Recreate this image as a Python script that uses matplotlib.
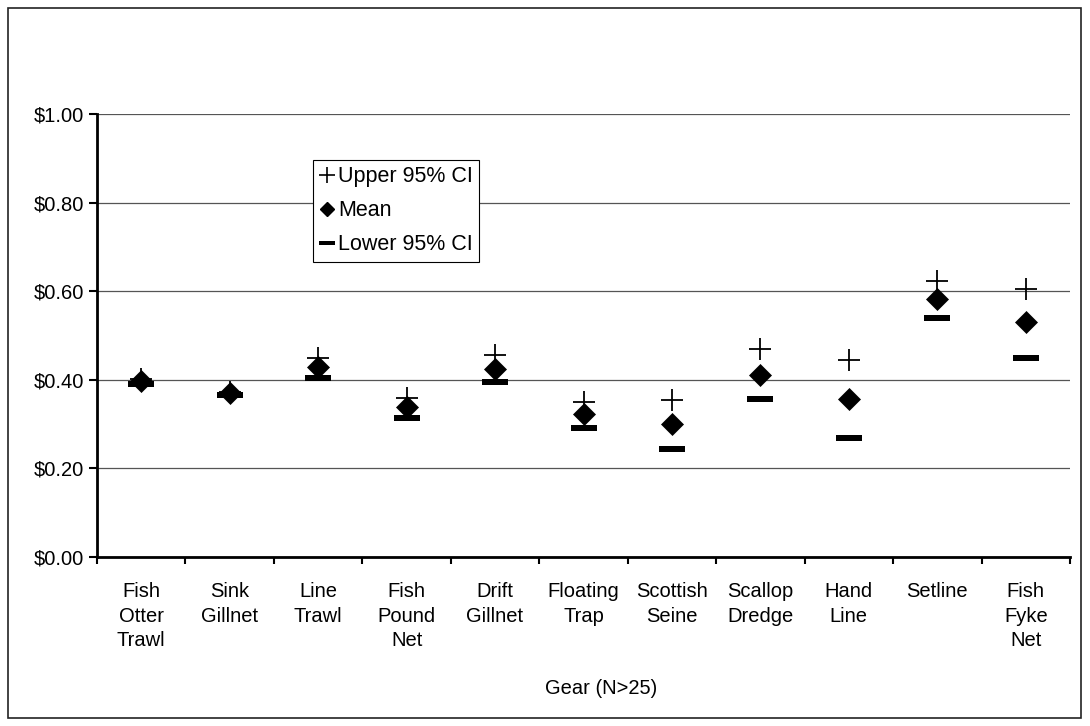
import matplotlib
matplotlib.use("Agg")
import matplotlib.pyplot as plt
import numpy as np
from matplotlib.path import Path
from matplotlib.lines import Line2D
from matplotlib.patches import Rectangle
from matplotlib.ticker import FuncFormatter, FixedLocator

plt.rcParams['font.family'] = ['Liberation Sans', 'DejaVu Sans']

# Gear types (N>25)
gears = ["Fish\nOtter\nTrawl", "Sink\nGillnet", "Line\nTrawl", "Fish\nPound\nNet",
         "Drift\nGillnet", "Floating\nTrap", "Scottish\nSeine", "Scallop\nDredge",
         "Hand\nLine", "Setline", "Fish\nFyke\nNet"]
upper_ci = [0.402, 0.373, 0.450, 0.360, 0.455, 0.350, 0.355, 0.470, 0.444, 0.624, 0.604]
mean_val = [0.397, 0.370, 0.430, 0.338, 0.425, 0.322, 0.301, 0.411, 0.357, 0.583, 0.530]
lower_ci = [0.391, 0.365, 0.403, 0.314, 0.395, 0.291, 0.244, 0.356, 0.269, 0.540, 0.450]
y_ticks = [0.0, 0.2, 0.4, 0.6, 0.8, 1.0]

FS = 14.5
W, H = 1090, 726
fig = plt.figure(figsize=(W / 100, H / 100), dpi=100)

# outer chart border
bx0, by0, bx1, by1 = 8, 8, 1081, 718
fig.patches.append(Rectangle((bx0 / W, 1 - by1 / H), (bx1 - bx0) / W, (by1 - by0) / H,
                             transform=fig.transFigure, fill=False,
                             edgecolor='#222222', linewidth=1.2))

ax_left, ax_right = 97, 1070
ax_top, ax_bottom = 114, 557
ax = fig.add_axes([ax_left / W, (H - ax_bottom) / H,
                   (ax_right - ax_left) / W, (ax_bottom - ax_top) / H])

x = np.arange(len(gears))

# flat bar marker for the lower bound
bar_marker = Path([(-1, -0.24), (1, -0.24), (1, 0.24), (-1, 0.24), (-1, -0.24)],
                  [Path.MOVETO, Path.LINETO, Path.LINETO, Path.LINETO, Path.CLOSEPOLY])

ax.plot(x, upper_ci, linestyle='none', marker='+', markersize=16.5,
        markeredgewidth=1.3, color='black', zorder=3)
ax.plot(x, mean_val, linestyle='none', marker='D', markersize=11.5,
        markeredgewidth=0.5, color='black', zorder=4)
ax.plot(x, lower_ci, linestyle='none', marker=bar_marker, markersize=18.7,
        markeredgewidth=0, color='black', zorder=5)

ax.set_xlim(-0.5, len(gears) - 0.5)
ax.set_ylim(0, 1.0)

ax.set_yticks(y_ticks)
ax.yaxis.set_major_formatter(FuncFormatter(lambda v, p: f"${v:.2f}"))
ax.grid(axis='y', color='#555555', linewidth=0.9)
ax.set_axisbelow(True)

ax.set_xticks(x)
ax.set_xticklabels(gears, linespacing=1.38)
ax.xaxis.set_minor_locator(FixedLocator(np.arange(-0.5, len(gears), 1.0)))
ax.tick_params(axis='x', which='major', length=0, pad=18, labelsize=FS)
ax.tick_params(axis='x', which='minor', length=5, width=1.5, direction='out')
ax.tick_params(axis='y', which='major', length=6, width=1.5, direction='out',
               pad=3, labelsize=FS)

for s in ('top', 'right'):
    ax.spines[s].set_visible(False)
for s in ('left', 'bottom'):
    ax.spines[s].set_linewidth(2.0)

fig.text(601 / W, 1 - 688 / H, "Gear (N>25)", fontsize=FS, ha='center', va='center')

handles = [
    Line2D([], [], linestyle='none', marker='+', markersize=11, markeredgewidth=1.2, color='black'),
    Line2D([], [], linestyle='none', marker='D', markersize=7, color='black'),
    Line2D([], [], linestyle='none', marker=bar_marker, markersize=11, markeredgewidth=0, color='black'),
]
leg = fig.legend(handles, ["Upper 95% CI", "Mean", "Lower 95% CI"],
                 loc='upper left', bbox_to_anchor=(313 / W, 1 - 160 / H),
                 borderaxespad=0, fancybox=False, framealpha=1, edgecolor='black',
                 fontsize=15.5, handlelength=0.7, handletextpad=0.15,
                 labelspacing=0.6, borderpad=0.3)
leg.get_frame().set_linewidth(0.8)

fig.savefig("out.png", dpi=100)
